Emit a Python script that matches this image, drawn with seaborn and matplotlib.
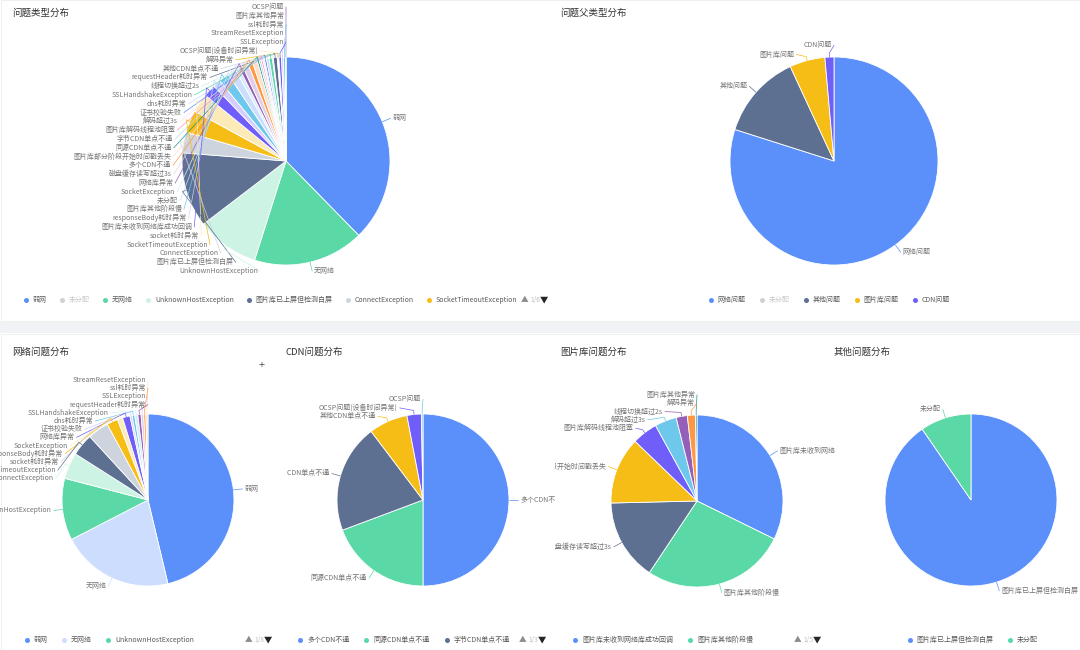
import numpy as np
import matplotlib.pyplot as plt
import seaborn as sns
from matplotlib.patches import Rectangle
from matplotlib.transforms import Bbox, TransformedBbox

# ---- data (slice order = clockwise from 12 o'clock) ----
type_labels = ['弱网', '无网络', 'UnknownHostException', '图片库已上屏但检测白屏', 'ConnectException',
               'SocketTimeoutException', 'socket耗时异常', '图片库未收到网络库成功回调', 'responseBody耗时异常',
               '图片库其他阶段慢', '未分配', 'SocketException', '网络库异常', '磁盘缓存读写超过3s', '多个CDN不通',
               '图片库部分阶段开始时间戳丢失', '同源CDN单点不通', '字节CDN单点不通', '图片库解码线程池阻塞', '解码超过3s',
               '证书校验失败', 'dns耗时异常', 'SSLHandshakeException', '线程切换超过2s', 'requestHeader耗时异常',
               '其他CDN单点不通', '解码异常', 'OCSP问题(设备时间异常)', 'SSLException', 'StreamResetException',
               'ssl耗时异常', '图片库其他异常', 'OCSP问题']
type_values = [37.2, 17.0, 9.6, 11.5, 3.2, 3.4, 2.9, 1.9, 1.2, 1.6, 1.3, 0.6, 0.6, 0.9, 0.7,
               0.75, 0.3, 0.3, 0.27, 0.25, 0.3, 0.4, 0.5, 0.14, 0.6, 0.1, 0.1, 0.05, 0.4, 0.3,
               0.3, 0.05, 0.03]
type_legend = ['弱网', '未分配', '无网络', 'UnknownHostException', '图片库已上屏但检测白屏',
               'ConnectException', 'SocketTimeoutException']

parent_labels = ['网络问题', '其他问题', '图片库问题', 'CDN问题']
parent_values = [79.9, 13.2, 5.5, 1.4]
parent_legend = ['网络问题', '未分配', '其他问题', '图片库问题', 'CDN问题']

net_labels = ['弱网', '无网络', 'UnknownHostException', 'ConnectException', 'SocketTimeoutException',
              'socket耗时异常', 'responseBody耗时异常', 'SocketException', '网络库异常', '证书校验失败',
              'dns耗时异常', 'SSLHandshakeException', 'requestHeader耗时异常', 'SSLException',
              'ssl耗时异常', 'StreamResetException']
net_values = [46.6, 21.3, 11.7, 5.0, 4.2, 4.0, 2.1, 1.0, 1.4, 0.4, 0.5, 0.6, 0.6, 0.5, 0.4, 0.4]

cdn_labels = ['多个CDN不通', '同源CDN单点不通', '字节CDN单点不通', '其他CDN单点不通', 'OCSP问题(设备时间异常)', 'OCSP问题']
cdn_values = [50.0, 19.3, 20.4, 7.3, 2.7, 0.3]

lib_labels = ['图片库未收到网络库成功回调', '图片库其他阶段慢', '磁盘缓存读写超过3s', '图片库部分阶段开始时间戳丢失',
              '图片库解码线程池阻塞', '解码超过3s', '线程切换超过2s', '解码异常', '图片库其他异常']
lib_values = [32.3, 27.1, 15.3, 12.6, 4.8, 4.1, 2.1, 1.5, 0.3]

other_labels = ['图片库已上屏但检测白屏', '未分配']
other_values = [90.4, 9.6]

sns.set_theme(style='white')
plt.rcParams['font.family'] = ['Noto Sans CJK SC', 'DejaVu Sans']

G2_10 = ['#5B8FF9', '#5AD8A6', '#5D7092', '#F6BD16', '#6F5EF9', '#6DC8EC', '#945FB9', '#FF9845', '#1E9493', '#FF99C3']
G2_20 = ['#5B8FF9', '#CDDDFD', '#5AD8A6', '#CDF3E4', '#5D7092', '#CED4DE', '#F6BD16', '#FCEBB9', '#6F5EF9', '#D3CEFD',
         '#6DC8EC', '#D3EEF9', '#945FB9', '#DECFEA', '#FF9845', '#FFE0C7', '#1E9493', '#BBDEDE', '#FF99C3', '#FFE0ED']
pal10 = sns.color_palette(G2_10)
pal20 = sns.color_palette(G2_20)

W, H = 1080, 650
fig = plt.figure(figsize=(10.8, 6.5), dpi=100)
fig.patch.set_facecolor('white')
ax = fig.add_axes([0, 0, 1, 1])
renderer = fig.canvas.get_renderer()

LABEL_C = '#737373'
TEXT_C = '#595959'
LEG_SIZE = 5.0


def Y(y):
    return H - y


def spread(targets, gap, lo, hi):
    # cluster relaxation like the G2 anti-collision
    blocks = [[t] for t in targets]

    def place(b):
        n = len(b)
        s = np.mean(b) - (n - 1) * gap / 2
        s = min(s, hi - (n - 1) * gap)
        return max(s, lo)

    starts = [place(b) for b in blocks]
    merged = True
    while merged:
        merged = False
        for i in range(len(blocks) - 1):
            if starts[i] + len(blocks[i]) * gap > starts[i + 1] + 1e-9:
                blocks[i] = blocks[i] + blocks[i + 1]
                del blocks[i + 1]
                del starts[i + 1]
                starts[i] = place(blocks[i])
                merged = True
                break
    out = []
    for s, b in zip(starts, blocks):
        out += [s + k * gap for k in range(len(b))]
    return out


def draw_pie(values, labels, colors, cx, cy, r, panel, band, gap=8.6, off=9):
    x0, y0, x1, y1 = panel
    clip = TransformedBbox(Bbox.from_extents(x0, Y(y1), x1, Y(y0)), ax.transData)
    ax.pie(values, colors=colors, startangle=90, counterclock=False,
           center=(cx, Y(cy)), radius=r, frame=True,
           wedgeprops=dict(edgecolor='white', linewidth=0.6))
    v = np.asarray(values, float)
    fr = v / v.sum()
    mids = (np.cumsum(fr) - fr / 2) * 2 * np.pi
    R = r + off
    for side in (1, -1):
        idx = [i for i in range(len(v)) if (np.sin(mids[i]) >= 0) == (side == 1)]
        ideal = {i: cy - R * np.cos(mids[i]) for i in idx}
        idx.sort(key=lambda i: ideal[i])
        ys = spread([ideal[i] for i in idx], gap, band[0], band[1])
        for i, y in zip(idx, ys):
            dy = y - cy
            x = cx + side * np.sqrt(max(R * R - dy * dy, 0))
            m = mids[i]
            px = [cx + r * np.sin(m), cx + (r + 4) * np.sin(m), x]
            py = [cy - r * np.cos(m), cy - (r + 4) * np.cos(m), y]
            ln, = ax.plot(px, [Y(p) for p in py], color=colors[i], lw=0.5)
            ln.set_clip_box(clip)
            t = ax.text(x + side * 2, Y(y), labels[i], fontsize=5, color=LABEL_C,
                        ha='left' if side == 1 else 'right', va='center', clip_on=True)
            t.set_clip_box(clip)


def text_w(s, size):
    t = ax.text(0, 0, s, fontsize=size)
    w = t.get_window_extent(renderer).width
    t.remove()
    return w


def legend(items, colors, x, y, grey=(), pager=None, pager_right=None, center=None, gap=13):
    widths = [text_w(s, LEG_SIZE) for s in items]
    total = sum(10 + w for w in widths) + gap * (len(items) - 1)
    if center is not None:
        x = center - total / 2
    cur = x
    for s, c, w in zip(items, colors, widths):
        off = s in grey
        ax.plot(cur + 3, Y(y), 'o', ms=3.6, color='#d0d0d0' if off else c, mec='none')
        ax.text(cur + 10, Y(y), s, fontsize=LEG_SIZE, color='#c8c8c8' if off else TEXT_C, va='center')
        cur += 10 + w + gap
    if pager:
        pw = text_w(pager, 4.8)
        ax.text(pager_right, Y(y), '▼', fontsize=6, color='#262626', va='center', ha='right')
        ax.text(pager_right - 8, Y(y), pager, fontsize=4.8, color='#bfbfbf', va='center', ha='right')
        ax.text(pager_right - 10 - pw, Y(y), '▲', fontsize=5.5, color='#8c8c8c', va='center', ha='right')


# cards
ax.add_patch(Rectangle((0, Y(333)), W, 12, color='#f0f2f5', lw=0))
ax.add_patch(Rectangle((0.5, Y(321)), W - 1, 321, fill=False, ec='#f0f0f0', lw=0.8))
ax.add_patch(Rectangle((0.5, 0.5), W - 1, H - 333 - 1, fill=False, ec='#f0f0f0', lw=0.8))

# titles
for tx, ty, s in [(12, 13, '问题类型分布'), (560, 13, '问题父类型分布'), (12, 352, '网络问题分布'),
                  (286, 352, 'CDN问题分布'), (560, 352, '图片库问题分布'), (834, 352, '其他问题分布')]:
    ax.text(tx, Y(ty), s, fontsize=6.8, color='#333333', va='center')
ax.text(262, Y(365), '+', fontsize=8, color='#555555', va='center', ha='center')

# 1: problem types
order = [type_legend[0], type_legend[1]] + [s for s in type_labels if s not in type_legend[:2]]
type_cols = [pal20[order.index(s) % 20] for s in type_labels]
draw_pie(type_values, type_labels, type_cols, 286, 161, 104, (0, 0, 555, 321), (7, 271), gap=8.8)
legend(type_legend, [pal20[i] for i in range(7)], 23, 300, grey=('未分配',), pager='1/6', pager_right=548,
       gap=12)

# 2: parent types
parent_cols = [pal20[0], pal20[4], pal20[6], pal20[8]]
draw_pie(parent_values, parent_labels, parent_cols, 834, 161, 104, (555, 0, 1080, 321), (30, 290), gap=9)
legend(parent_legend, [pal20[0], pal20[1], pal20[4], pal20[6], pal20[8]], 0, 300,
       grey=('未分配',), center=829)

# 3: network
draw_pie(net_values, net_labels, [pal20[i % 20] for i in range(len(net_values))],
         148, 500, 86, (0, 333, 280, 650), (380, 610), gap=8.2)
legend(net_labels[:3], [pal20[0], pal20[1], pal20[2]], 24, 640, pager='1/8', pager_right=272)

# 4: CDN
draw_pie(cdn_values, cdn_labels, [pal10[i] for i in range(len(cdn_values))],
         423, 500, 86, (287, 333, 555, 650), (380, 610), gap=8.6)
legend(cdn_labels[:3], pal10[:3], 297, 640, pager='1/3', pager_right=546, gap=14)

# 5: image library
draw_pie(lib_values, lib_labels, [pal10[i] for i in range(len(lib_values))],
         697, 501, 86, (555, 333, 835, 650), (380, 610), gap=8.4)
legend(lib_labels[:2], pal10[:2], 572, 640, pager='1/5', pager_right=821, gap=14)

# 6: other
draw_pie(other_values, other_labels, pal10[:2], 971, 500, 86, (830, 333, 1080, 650), (380, 610))
legend(other_labels, pal10[:2], 0, 640, center=972)

ax.set_xlim(0, W)
ax.set_ylim(0, H)
ax.set_aspect('auto')
ax.axis('off')
fig.savefig('out.png', dpi=100, facecolor='white')
